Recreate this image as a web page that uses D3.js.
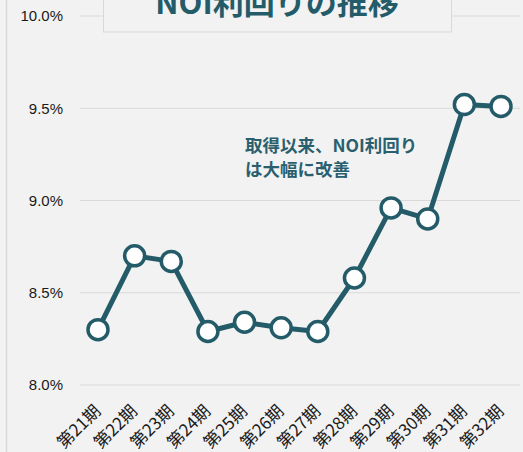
<!DOCTYPE html>
<html><head><meta charset="utf-8">
<script src="https://cdn.jsdelivr.net/npm/d3@7"></script>
<style>
html,body{margin:0;padding:0;background:#f2f2f2;}
svg{display:block;}
</style></head><body>
<svg id="chart" width="523" height="452"></svg>
<script>
const categories = ["第21期","第22期","第23期","第24期","第25期","第26期","第27期","第28期","第29期","第30期","第31期","第32期"];
const noiYield = [8.30, 8.70, 8.67, 8.29, 8.34, 8.31, 8.29, 8.58, 8.96, 8.90, 9.52, 9.51];
const yTicks = [8.0, 8.5, 9.0, 9.5, 10.0];
const titleText = "NOI利回りの推移";
const noteLines = ["取得以来、NOI利回り", "は大幅に改善"];

const teal = "#245b69";
const svg = d3.select("#chart");
const W = 523, H = 452;
const font = "'Noto Sans CJK JP','Noto Sans',sans-serif";

svg.append("rect").attr("width", W).attr("height", H).attr("fill", "#f2f2f2");
// left frame line
svg.append("line").attr("x1", 6.5).attr("x2", 6.5).attr("y1", 0).attr("y2", H)
  .attr("stroke", "#d9d9d9").attr("stroke-width", 1.5);

const x = d3.scalePoint().domain(categories).range([98, 501]);
const y = d3.scaleLinear().domain([8.0, 10.0]).range([385, 16]);

// gridlines
svg.append("g").selectAll("line").data(yTicks).join("line")
  .attr("x1", 80).attr("x2", 520)
  .attr("y1", d => y(d)).attr("y2", d => y(d))
  .attr("stroke", "#d9d9d9").attr("stroke-width", 1.2);

// y axis labels
const yAxis = d3.axisLeft(y).tickValues(yTicks).tickFormat(d => d.toFixed(1) + "%").tickSize(0).tickPadding(0);
const gy = svg.append("g").attr("transform", "translate(63,0)").call(yAxis);
gy.select(".domain").remove();
gy.selectAll("text").attr("font-family", "Arial,'Liberation Sans',sans-serif").attr("font-size", 15).attr("fill", "#1a1a1a");

// x axis labels
const xAxis = d3.axisBottom(x).tickSize(0).tickPadding(0);
const gx = svg.append("g").attr("transform", "translate(0,0)").call(xAxis);
gx.select(".domain").remove();
gx.selectAll("text")
  .attr("font-family", font).attr("font-size", 17).attr("fill", "#1a1a1a")
  .attr("text-anchor", "end").attr("y", 0).attr("dy", "0.35em")
  .attr("transform", "translate(-1,408) rotate(-45)");

// title box
svg.append("rect").attr("x", 103.5).attr("y", -2).attr("width", 348).attr("height", 34)
  .attr("fill", "#f2f2f2").attr("stroke", "#d9d9d9").attr("stroke-width", 1);
svg.append("text").attr("x", 277).attr("y", 14).attr("text-anchor", "middle")
  .attr("font-family", font).attr("font-weight", "bold").attr("font-size", 31)
  .attr("fill", teal).text(titleText);

// line
const line = d3.line().x((d, i) => x(categories[i])).y(d => y(d));
svg.append("path").datum(noiYield).attr("d", line)
  .attr("fill", "none").attr("stroke", teal).attr("stroke-width", 5).attr("stroke-linejoin", "round");

svg.append("g").selectAll("circle").data(noiYield).join("circle")
  .attr("cx", (d, i) => x(categories[i])).attr("cy", d => y(d)).attr("r", 10)
  .attr("fill", "#ffffff").attr("stroke", teal).attr("stroke-width", 3.5);

// annotation
svg.append("g").selectAll("text").data(noteLines).join("text")
  .attr("x", 245).attr("y", (d, i) => 152 + i * 24)
  .attr("font-family", font).attr("font-weight", "bold").attr("font-size", 17.5)
  .attr("fill", "#2a5f6e").text(d => d);
</script>
</body></html>
